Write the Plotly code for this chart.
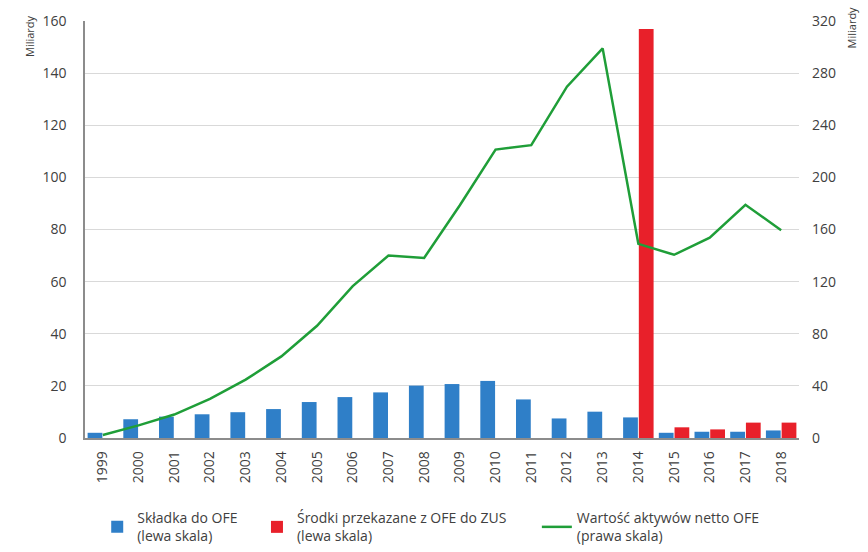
import plotly.graph_objects as go

years = [str(y) for y in range(1999, 2019)]
skladka = [2.0, 7.2, 8.2, 9.1, 9.9, 11.1, 13.8, 15.7, 17.5, 20.1, 20.7, 21.9, 14.8, 7.5, 10.1, 7.9, 2.0, 2.4, 2.4, 2.9]
srodki = [None] * 15 + [156.9, 4.1, 3.3, 5.9, 5.9]
wartosc = [2.3, 9.7, 18.0, 30.0, 44.8, 62.6, 86.1, 116.6, 140.0, 138.2, 178.6, 221.3, 224.7, 269.6, 299.0, 149.0, 140.6, 153.8, 179.0, 159.5]

NB = "\u00a0"
font = "Open Sans, Liberation Sans, sans-serif"
fig = go.Figure()
fig.add_trace(go.Bar(x=years, y=skladka, name="Składka do OFE" + NB * 4 + "<br>(lewa skala)",
                     marker=dict(color="#2f7fc8", line=dict(width=0))))
fig.add_trace(go.Bar(x=years, y=srodki, name="Środki przekazane z OFE do ZUS" + NB * 7 + "<br>(lewa skala)",
                     marker=dict(color="#e8202a", line=dict(width=0))))
fig.add_trace(go.Scatter(x=years, y=wartosc, name="Wartość aktywów netto OFE<br>(prawa skala)",
                         mode="lines", line=dict(color="#1f9e38", width=2.5), yaxis="y2"))

fig.update_layout(
    width=868, height=552,
    margin=dict(l=85, r=69, t=21, b=114),
    paper_bgcolor="white", plot_bgcolor="white",
    barmode="group", bargap=0.12, bargroupgap=0.06,
    font=dict(family=font, size=14, color="#404040"),
    xaxis=dict(type="category", tickangle=-90, showline=True, linecolor="#8c8c8c", linewidth=1.5,
               ticks="", showgrid=False, automargin=False, ticklabelstandoff=6,
               tickfont=dict(size=14, color="#404040")),
    yaxis=dict(range=[0, 160], dtick=20, showgrid=True, gridcolor="#d9d9d9", gridwidth=1,
               showline=True, linecolor="#8c8c8c", linewidth=1.5, zeroline=False, automargin=False,
               ticks="", tickfont=dict(size=14, color="#404040"), ticklabelstandoff=14),
    yaxis2=dict(range=[0, 320], dtick=40, overlaying="y", side="right", showgrid=False,
                showline=False, zeroline=False, ticks="", automargin=False,
                tickfont=dict(size=14, color="#404040"), ticklabelstandoff=12),
    legend=dict(orientation="h", x=0.112, xref="container", xanchor="left",
                y=0.045, yref="container", yanchor="middle",
                font=dict(size=14, color="#404040"), traceorder="normal",
                bgcolor="rgba(0,0,0,0)"),
    annotations=[
        dict(text="Miliardy", x=-0.078, y=1.02, xref="paper", yref="paper", showarrow=False,
             textangle=-90, font=dict(size=11, color="#404040"), xanchor="center", yanchor="top"),
        dict(text="Miliardy", x=1.073, y=1.04, xref="paper", yref="paper", showarrow=False,
             textangle=-90, font=dict(size=11, color="#404040"), xanchor="center", yanchor="top"),
    ],
)
fig.write_html("out.html")
